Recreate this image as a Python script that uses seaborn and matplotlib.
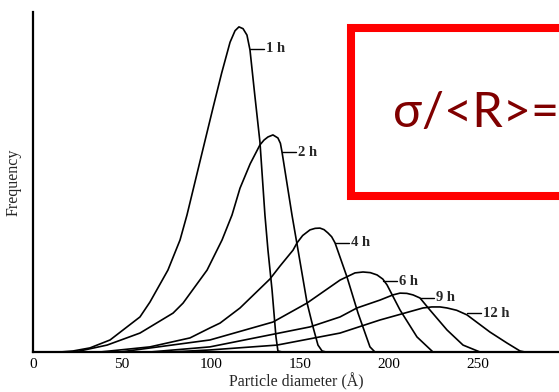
import numpy as np
import pandas as pd
import matplotlib
matplotlib.use("Agg")
import matplotlib.pyplot as plt
import seaborn as sns
from matplotlib.patches import Rectangle

# ---- data ----
series_names = ["1 h", "2 h", "4 h", "6 h", "9 h", "12 h"]

d1_x = [15.2, 22.5, 32.0, 43.3, 60.1, 65.7, 75.8, 82.6, 86.5, 94.0, 101.1, 106.0, 110.7, 113.5, 115.7, 118.0, 120.2, 121.9, 124.5, 127.5, 130.3, 132.0, 134.3, 136.5, 137.6, 140.0]
d1_y = [0.0, 0.4, 1.6, 4.7, 13.7, 19.5, 32.0, 43.75, 53.5, 75.0, 95.3, 109.0, 121.0, 125.5, 127.0, 126.3, 123.8, 118.0, 101.0, 82.0, 53.5, 39.8, 24.2, 5.9, 0.4, 0.0]

d2_x = [23.6, 41.6, 60.1, 78.7, 84.3, 97.8, 106.2, 111.8, 116.3, 122.0, 127.5, 129.8, 132.0, 134.8, 137.6, 139.0, 139.9, 145.5, 148.9, 154.0, 157.3, 160.1, 162.4, 164.6]
d2_y = [0.0, 2.7, 7.4, 15.2, 19.1, 32.0, 43.75, 53.5, 64.0, 73.5, 80.9, 82.8, 84.0, 84.8, 83.6, 81.5, 78.1, 53.5, 39.8, 19.1, 9.8, 2.7, 0.4, 0.0]

d4_x = [37.6, 65.7, 88.2, 99.4, 105.1, 116.3, 133.1, 138.8, 146.1, 148.3, 151.5, 155.6, 158.5, 161.2, 163.5, 165.7, 167.8, 169.7, 176.4, 182.6, 189.3, 192.1]
d4_y = [0.0, 2.0, 5.5, 9.4, 11.3, 17.2, 28.5, 33.6, 39.8, 42.6, 45.5, 47.7, 48.3, 48.4, 47.8, 46.5, 45.0, 42.6, 29.3, 15.2, 2.0, 0.0]

d6_x = [48.9, 99.4, 134.8, 153.9, 172.5, 180.9, 185.4, 189.5, 193.3, 196.5, 198.9, 206.2, 215.7, 224.7]
d6_y = [0.0, 4.7, 11.7, 19.1, 28.1, 30.9, 31.25, 31.0, 30.1, 28.5, 26.2, 16.4, 5.9, 0.0]

d9_x = [65.7, 99.4, 155.6, 172.5, 182.0, 195.0, 202.2, 206.2, 210.0, 213.5, 217.4, 223.0, 232.6, 241.6, 251.1]
d9_y = [0.0, 2.0, 9.8, 13.7, 17.2, 20.3, 22.3, 23.0, 22.9, 22.3, 21.1, 16.4, 8.6, 2.7, 0.0]

d12_x = [77.0, 99.4, 137.1, 172.5, 194.9, 219.1, 224.0, 228.7, 232.6, 238.0, 243.8, 256.7, 266.3, 273.6, 276.4]
d12_y = [0.0, 0.8, 2.7, 7.4, 12.5, 17.2, 17.6, 17.6, 17.2, 16.3, 14.5, 7.8, 3.5, 0.4, 0.0]

# label leader start (on curve)
label_x = [121.9, 139.9, 169.7, 196.6, 217.4, 243.8]
label_y = [118.4, 78.1, 42.6, 27.7, 21.1, 15.2]
label_text = ["1 h", "2 h", "4 h", "6 h", "9 h", "12 h"]

x_ticks = [0, 50, 100, 150, 200, 250]
x_label = "Particle diameter (Å)"
y_label = "Frequency"
box_text = "σ/<R>="

frames = []
for name, xs, ys in zip(series_names,
                        [d1_x, d2_x, d4_x, d6_x, d9_x, d12_x],
                        [d1_y, d2_y, d4_y, d6_y, d9_y, d12_y]):
    frames.append(pd.DataFrame({"diameter": xs, "freq": ys, "time": name}))
df = pd.concat(frames, ignore_index=True)

sns.set_style("white")
plt.rcParams["font.family"] = ["Liberation Serif", "DejaVu Serif"]

W, H = 559, 392
fig = plt.figure(figsize=(W / 100, H / 100), dpi=100)
x0, xb, yt = 33, 352, 12
ax = fig.add_axes([x0 / W, 1 - xb / H, 1 - x0 / W, (xb - yt) / H])

sns.lineplot(data=df, x="diameter", y="freq", hue="time", hue_order=series_names,
             palette=["black"] * 6, sort=False, estimator=None, legend=False,
             linewidth=1.2, ax=ax)

ax.set_xlim(0, (W - x0) / 1.78)
ax.set_ylim(0, (xb - yt) / 2.56)

for s in ["top", "right"]:
    ax.spines[s].set_visible(False)
for s in ["left", "bottom"]:
    ax.spines[s].set_linewidth(1.6)
    ax.spines[s].set_color("black")

ax.set_xticks(x_ticks)
ax.set_xticklabels([str(t) for t in x_ticks], fontsize=11)
ax.set_xticks(np.arange(10, 300, 10), minor=True)
ax.tick_params(axis="x", which="both", direction="in", length=3, width=1, pad=4, colors="black")
ax.set_yticks(np.arange(10, 131, 10))
ax.tick_params(axis="y", direction="in", length=3, width=1, labelleft=False)

ax.set_xlabel(x_label, fontsize=11.5, labelpad=2)
ax.set_ylabel(y_label, fontsize=11.5, labelpad=8)

for lx, ly, t in zip(label_x, label_y, label_text):
    ax.plot([lx, lx + 8], [ly, ly], color="black", lw=1.0)
    ax.text(lx + 9, ly, t, fontsize=10.5, fontweight="bold", ha="left", va="center")

# red box overlay
bx0, by0, by1 = 351, 27.5, 196
rect = Rectangle((bx0 / W, 1 - by1 / H), (W + 50 - bx0) / W, (by1 - by0) / H,
                 transform=fig.transFigure, facecolor="white", edgecolor="#ff0000",
                 linewidth=5.8, zorder=5, clip_on=False)
fig.patches.append(rect)
fig.text(393 / W, 1 - 127 / H, box_text, fontsize=35, color="#800000",
         family=["Lato", "DejaVu Sans"], ha="left", va="baseline", zorder=6)

fig.savefig("out.png", dpi=100)
